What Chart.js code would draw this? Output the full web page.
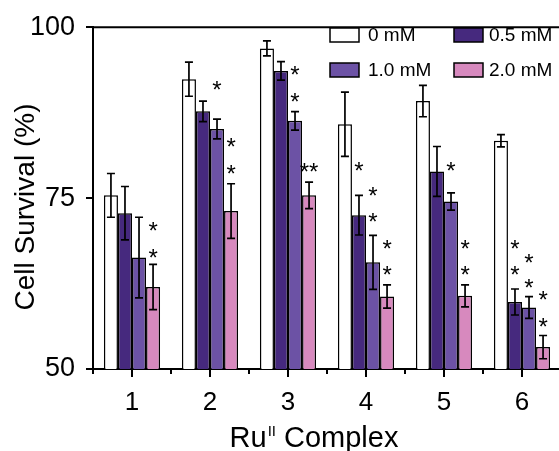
<!DOCTYPE html>
<html>
<head>
<meta charset="utf-8">
<script src="https://cdn.jsdelivr.net/npm/chart.js@4.4.0/dist/chart.umd.min.js"></script>
<style>
  html, body { margin: 0; padding: 0; background: #fff; overflow: hidden; }
  canvas { display: block; }
</style>
</head>
<body>
<canvas id="myChart" width="600" height="451"></canvas>
<script>
var complexes = ["1", "2", "3", "4", "5", "6"];
var yTicks = [50, 75, 100];

var conc = ["0 mM", "0.5 mM", "1.0 mM", "2.0 mM"];

// mean cell survival (%) and error for each concentration
var surv0  = [75.4, 92.4, 96.9, 85.8, 89.2, 83.4];
var err0   = [3.2, 2.5, 1.1, 4.7, 2.3, 0.9];
var surv05 = [72.8, 87.7, 93.6, 72.5, 78.9, 59.8];
var err05  = [3.9, 1.5, 1.35, 2.9, 3.65, 1.9];
var surv10 = [66.3, 85.1, 86.3, 65.6, 74.5, 59.0];
var err10  = [5.9, 1.45, 1.35, 3.95, 1.25, 1.6];
var surv20 = [62.0, 73.1, 75.4, 60.6, 60.7, 53.2];
var err20  = [3.3, 4.0, 1.95, 1.7, 1.6, 1.7];

// significance marks: [complex index, concentration index, y value, text]
var stars = [
  [0, 3, 70.8, "*"], [0, 3, 66.9, "*"],
  [1, 2, 91.4, "*"], [1, 3, 83.2, "*"], [1, 3, 79.2, "*"],
  [2, 2, 93.6, "*"], [2, 2, 89.7, "*"], [2, 3, 79.5, "**"],
  [3, 1, 79.6, "*"], [3, 2, 75.9, "*"], [3, 2, 72.1, "*"], [3, 3, 68.2, "*"], [3, 3, 64.4, "*"],
  [4, 2, 79.6, "*"], [4, 3, 68.2, "*"], [4, 3, 64.4, "*"],
  [5, 1, 68.2, "*"], [5, 1, 64.4, "*"], [5, 2, 66.2, "*"], [5, 2, 62.5, "*"], [5, 3, 60.7, "*"], [5, 3, 56.8, "*"]
];

var fillCols = ["#ffffff", "#46297e", "#6c52a5", "#d789be"];
var FONT = "'Liberation Sans', Arial, sans-serif";

var means = [surv0, surv05, surv10, surv20];
var errs = [err0, err05, err10, err20];

var datasets = [];
for (var i = 0; i < conc.length; i++) {
  datasets.push({
    label: conc[i],
    data: means[i],
    backgroundColor: fillCols[i],
    borderColor: "#000",
    borderWidth: 1.5,
    borderSkipped: "bottom",
    categoryPercentage: 0.72,
    barPercentage: 1.0
  });
}

var extras = {
  id: "extras",
  afterDatasetsDraw: function(chart) {
    var ctx = chart.ctx;
    var ys = chart.scales.y;
    ctx.save();
    ctx.strokeStyle = "#000";
    ctx.lineWidth = 1.7;
    for (var d = 0; d < errs.length; d++) {
      var meta = chart.getDatasetMeta(d);
      for (var j = 0; j < meta.data.length; j++) {
        var x = meta.data[j].x;
        var yt = ys.getPixelForValue(means[d][j] + errs[d][j]);
        var yb = ys.getPixelForValue(means[d][j] - errs[d][j]);
        ctx.beginPath();
        ctx.moveTo(x, yt); ctx.lineTo(x, yb);
        ctx.moveTo(x - 4, yt); ctx.lineTo(x + 4, yt);
        ctx.moveTo(x - 4, yb); ctx.lineTo(x + 4, yb);
        ctx.stroke();
      }
    }
    // stars
    ctx.fillStyle = "#000";
    ctx.font = "24px " + FONT;
    ctx.textAlign = "center";
    ctx.textBaseline = "alphabetic";
    var m = ctx.measureText("*");
    var shift = (m.actualBoundingBoxAscent - m.actualBoundingBoxDescent) / 2;
    for (var s = 0; s < stars.length; s++) {
      var st = stars[s];
      var bx = chart.getDatasetMeta(st[1]).data[st[0]].x;
      var sy = ys.getPixelForValue(st[2]);
      ctx.fillText(st[3], bx, sy + shift);
    }
    ctx.restore();
  },
  afterDraw: function(chart) {
    var ctx = chart.ctx;
    var a = chart.chartArea;
    var xs = chart.scales.x;
    ctx.save();
    ctx.strokeStyle = "#000";
    ctx.lineWidth = 2;
    // top frame line
    ctx.beginPath();
    ctx.moveTo(a.left - 1, a.top);
    ctx.lineTo(a.right, a.top);
    ctx.stroke();
    // minor ticks between complexes
    var w = xs.getPixelForValue(1) - xs.getPixelForValue(0);
    ctx.beginPath();
    for (var k = 0; k <= complexes.length; k++) {
      var tx = xs.getPixelForValue(k) - w / 2;
      ctx.moveTo(tx, a.bottom);
      ctx.lineTo(tx, a.bottom + 5);
    }
    ctx.stroke();

    // legend, two columns
    ctx.font = "19px " + FONT;
    ctx.textAlign = "left";
    ctx.textBaseline = "middle";
    ctx.lineWidth = 1.5;
    var lx = [330, 454], ly = [35, 70];
    for (var i = 0; i < chart.data.datasets.length; i++) {
      var ds = chart.data.datasets[i];
      var px = lx[i % 2], py = ly[Math.floor(i / 2)];
      ctx.fillStyle = ds.backgroundColor;
      ctx.fillRect(px, py - 7, 29, 14);
      ctx.strokeRect(px, py - 7, 29, 14);
      ctx.fillStyle = "#000";
      ctx.fillText(ds.label, px + (i % 2 ? 35 : 38), py + 1);
    }

    // y title
    ctx.save();
    ctx.translate(26, 207);
    ctx.rotate(-Math.PI / 2);
    ctx.textAlign = "center";
    ctx.font = "28px " + FONT;
    ctx.fillText("Cell Survival (%)", 0, 0);
    ctx.restore();

    // x title with superscript
    ctx.textBaseline = "alphabetic";
    ctx.textAlign = "left";
    var big = "29px " + FONT, small = "15px " + FONT;
    ctx.font = big;
    var w1 = ctx.measureText("Ru").width;
    var w3 = ctx.measureText(" Complex").width;
    ctx.font = small;
    var w2 = ctx.measureText("II").width + 1;
    var x0 = 314 - (w1 + w2 + w3) / 2;
    var base = 447;
    ctx.font = big;
    ctx.fillText("Ru", x0, base);
    ctx.font = small;
    ctx.fillText("II", x0 + w1 + 1, base - 11);
    ctx.font = big;
    ctx.fillText(" Complex", x0 + w1 + w2, base);
    ctx.restore();
  }
};

var ctx = document.getElementById("myChart").getContext("2d");
var myChart = new Chart(ctx, {
  type: "bar",
  data: { labels: complexes, datasets: datasets },
  options: {
    responsive: false,
    animation: false,
    layout: { padding: { top: 23, right: 39, left: 0, bottom: 0 } },
    plugins: { legend: { display: false }, tooltip: { enabled: false }, title: { display: false } },
    scales: {
      x: {
        afterFit: function(scale) { scale.height = 82; },
        grid: { offset: false, drawOnChartArea: false, drawTicks: true, tickLength: 8, color: "#000", lineWidth: 2 },
        border: { color: "#000", width: 2 },
        ticks: { color: "#000", font: { size: 26, family: FONT }, padding: 10 }
      },
      y: {
        min: 50,
        max: 100,
        afterFit: function(scale) { scale.width = 93; },
        afterBuildTicks: function(scale) {
          scale.ticks = yTicks.map(function(v) { return { value: v }; });
        },
        grid: { drawOnChartArea: false, drawTicks: true, tickLength: 7, color: "#000", lineWidth: 2 },
        border: { color: "#000", width: 2 },
        ticks: { color: "#000", font: { size: 27, family: FONT }, padding: 11 }
      }
    }
  },
  plugins: [extras]
});
</script>
</body>
</html>
